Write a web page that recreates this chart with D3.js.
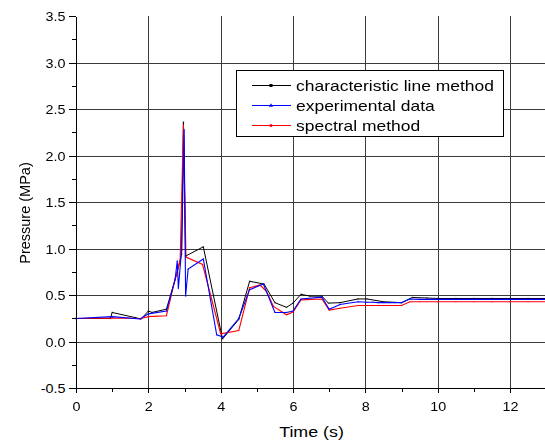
<!DOCTYPE html>
<html><head><meta charset="utf-8">
<script src="https://cdn.jsdelivr.net/npm/d3@7"></script>
<style>body{margin:0;background:#fff}svg{display:block}text{font-family:"Liberation Sans",Arial,sans-serif;fill:#000}</style>
</head><body><svg id="c" width="545" height="444"></svg>
<script>
// ---- data ----
const charTime  = [0,0.95,1.0,1.63,1.8,2.0,2.1,2.5,2.78,2.92,2.97,3.03,3.52,4.05,4.5,4.8,5.2,5.5,5.82,6.0,6.22,6.47,6.8,6.98,7.3,7.8,8.04,8.5,9.0,9.3,9.7,10.0,10.5,11.0,11.5,12.0,12.5,13.0];
const charPress = [0.25,0.25,0.315,0.26,0.245,0.33,0.315,0.35,0.72,0.94,2.36,0.92,1.02,0.03,0.24,0.65,0.62,0.42,0.37,0.415,0.51,0.49,0.49,0.415,0.42,0.46,0.46,0.43,0.42,0.476,0.47,0.465,0.465,0.465,0.465,0.465,0.465,0.465];
const expTime   = [0,1.0,1.77,2.0,2.5,2.74,2.8,2.83,2.92,2.99,3.03,3.1,3.52,3.89,4.07,4.5,4.8,5.18,5.5,5.82,6.0,6.22,6.8,7.0,7.3,7.8,8.04,8.2,8.36,8.5,8.66,8.82,9.0,9.23,9.5,10.0,10.5,11.0,11.5,12.0,12.5,13.0];
const expPress  = [0.25,0.27,0.245,0.30,0.33,0.67,0.87,0.57,0.99,2.28,0.49,0.78,0.89,0.075,0.05,0.25,0.56,0.62,0.315,0.315,0.33,0.46,0.48,0.35,0.40,0.43,0.425,0.425,0.42,0.42,0.42,0.42,0.42,0.46,0.455,0.455,0.455,0.455,0.455,0.455,0.455,0.455];
const specTime  = [0,1.0,1.8,2.0,2.5,2.74,2.88,2.97,3.04,3.5,4.0,4.5,4.8,5.09,5.27,5.46,5.82,6.0,6.22,6.8,7.0,7.3,7.8,8.04,8.2,8.36,8.5,8.66,8.82,9.0,9.23,9.5,10.0,10.5,11.0,11.5,12.0,12.5,13.0];
const specPress = [0.25,0.255,0.25,0.27,0.28,0.67,0.88,2.33,0.91,0.83,0.086,0.12,0.58,0.61,0.54,0.38,0.29,0.32,0.45,0.46,0.34,0.36,0.39,0.39,0.39,0.39,0.39,0.39,0.39,0.39,0.43,0.43,0.43,0.43,0.43,0.43,0.43,0.43,0.43];
const seriesNames = ["characteristic line method","experimental data","spectral method"];
const yTicks = [-0.5,0,0.5,1.0,1.5,2.0,2.5,3.0,3.5];
const xTicks = [0,2,4,6,8,10,12];
const xTitle = "Time (s)";
const yTitle = "Pressure (MPa)";

// ---- layout ----
const SX = 1.15;
const svg = d3.select("#c");
const x = d3.scaleLinear().domain([0,13]).range([76,546.2]);
const y = d3.scaleLinear().domain([-0.5,3.5]).range([388.3,16]);
const px = v => Math.round(v)+0.5;

// grid
const grid = svg.append("g").attr("stroke","#3c3c3c").attr("stroke-width",1).attr("shape-rendering","crispEdges");
yTicks.filter(v=>v>-0.5 && v<3.5).forEach(v=>{
  grid.append("line").attr("x1",x(0)).attr("x2",545).attr("y1",px(y(v))).attr("y2",px(y(v)));
});
xTicks.filter(v=>v>0).forEach(v=>{
  grid.append("line").attr("x1",px(x(v))).attr("x2",px(x(v))).attr("y1",y(3.5)).attr("y2",y(-0.5));
});

// series
const series = [
  {t:charTime,p:charPress,color:"#000000",marker:"square",w:1},
  {t:specTime,p:specPress,color:"#ff0000",marker:"circle",w:1.1},
  {t:expTime,p:expPress,color:"#0000ff",marker:"triangle",w:1.1}
];
const line = d3.line().x(d=>x(d[0])).y(d=>y(d[1]));
function marker(g, type, cx, cy, s, color){
  if(type==="square") g.append("rect").attr("x",cx-s/2).attr("y",cy-s/2).attr("width",s).attr("height",s).attr("fill",color);
  else if(type==="circle") g.append("circle").attr("cx",cx).attr("cy",cy).attr("r",s/2).attr("fill",color);
  else g.append("path").attr("d",d3.symbol(d3.symbolTriangle, s*s*0.8)()).attr("transform",`translate(${cx},${cy})`).attr("fill",color);
}
const dg = svg.append("g");
series.forEach(s=>{
  const pts = s.t.map((t,i)=>[t,s.p[i]]);
  dg.append("path").datum(pts).attr("d",line).attr("fill","none").attr("stroke",s.color).attr("stroke-width",s.w).attr("stroke-linejoin","miter");
  const mg = dg.append("g").attr("opacity",0.45);
  pts.forEach(d=>marker(mg, s.marker, x(d[0]), y(d[1]), 1.6, s.color));
});

// axes
const fmt = d=>d.toFixed(1);
const yAxis = svg.append("g").attr("transform",`translate(${px(x(0))-0.5},0)`)
  .call(d3.axisLeft(y).tickValues(yTicks).tickSize(7).tickSizeOuter(0).tickFormat(fmt));
yAxis.selectAll("text").attr("x",0).attr("dy","0.36em").attr("transform","translate(-10.5,0) scale("+SX+",1)")
  .attr("font-size","12.5px").attr("font-family","Liberation Sans, Arial, sans-serif");
svg.append("g").attr("transform",`translate(${px(x(0))-0.5},0)`)
  .call(d3.axisLeft(y).tickValues(d3.range(-0.25,3.5,0.5)).tickSize(4).tickSizeOuter(0).tickFormat(""))
  .select(".domain").remove();

const xAxis = svg.append("g").attr("transform",`translate(0,${px(y(-0.5))-0.5})`)
  .call(d3.axisBottom(x).tickValues(xTicks).tickSize(5).tickSizeOuter(0).tickFormat(d=>String(d)));
xAxis.selectAll("text").attr("y",0).attr("dy",0).attr("transform","translate(0,22.5) scale("+SX+",1)")
  .attr("font-size","12.5px").attr("font-family","Liberation Sans, Arial, sans-serif");
svg.append("g").attr("transform",`translate(0,${px(y(-0.5))-0.5})`)
  .call(d3.axisBottom(x).tickValues([1,3,5,7,9,11,13]).tickSize(4).tickSizeOuter(0).tickFormat(""))
  .select(".domain").remove();
svg.selectAll(".domain, .tick line").attr("stroke","#000").attr("shape-rendering","crispEdges");

// titles
svg.append("g").attr("transform",`translate(311.5,437) scale(${SX},1)`)
  .append("text").attr("text-anchor","middle").attr("font-size","15.5px").text(xTitle);
svg.append("text").attr("transform","translate(30,213) rotate(-90)").attr("text-anchor","middle").attr("font-size","14.5px").text(yTitle);

// legend
const lg = svg.append("g");
lg.append("rect").attr("x",236.5).attr("y",70.5).attr("width",267).attr("height",66).attr("fill","#fff").attr("stroke","#000").attr("stroke-width",1);
const legendSeries = [series[0],series[2],series[1]];
legendSeries.forEach((s,i)=>{
  const cy = 85 + i*20;
  lg.append("line").attr("x1",252).attr("x2",291).attr("y1",cy+0.5).attr("y2",cy+0.5).attr("stroke",s.color).attr("stroke-width",1);
  marker(lg, s.marker, 271, cy+0.5, 3, s.color);
  lg.append("g").attr("transform",`translate(296,${cy+5.5}) scale(${SX},1)`)
    .append("text").attr("font-size","15.2px").text(seriesNames[i]);
});
</script></body></html>
